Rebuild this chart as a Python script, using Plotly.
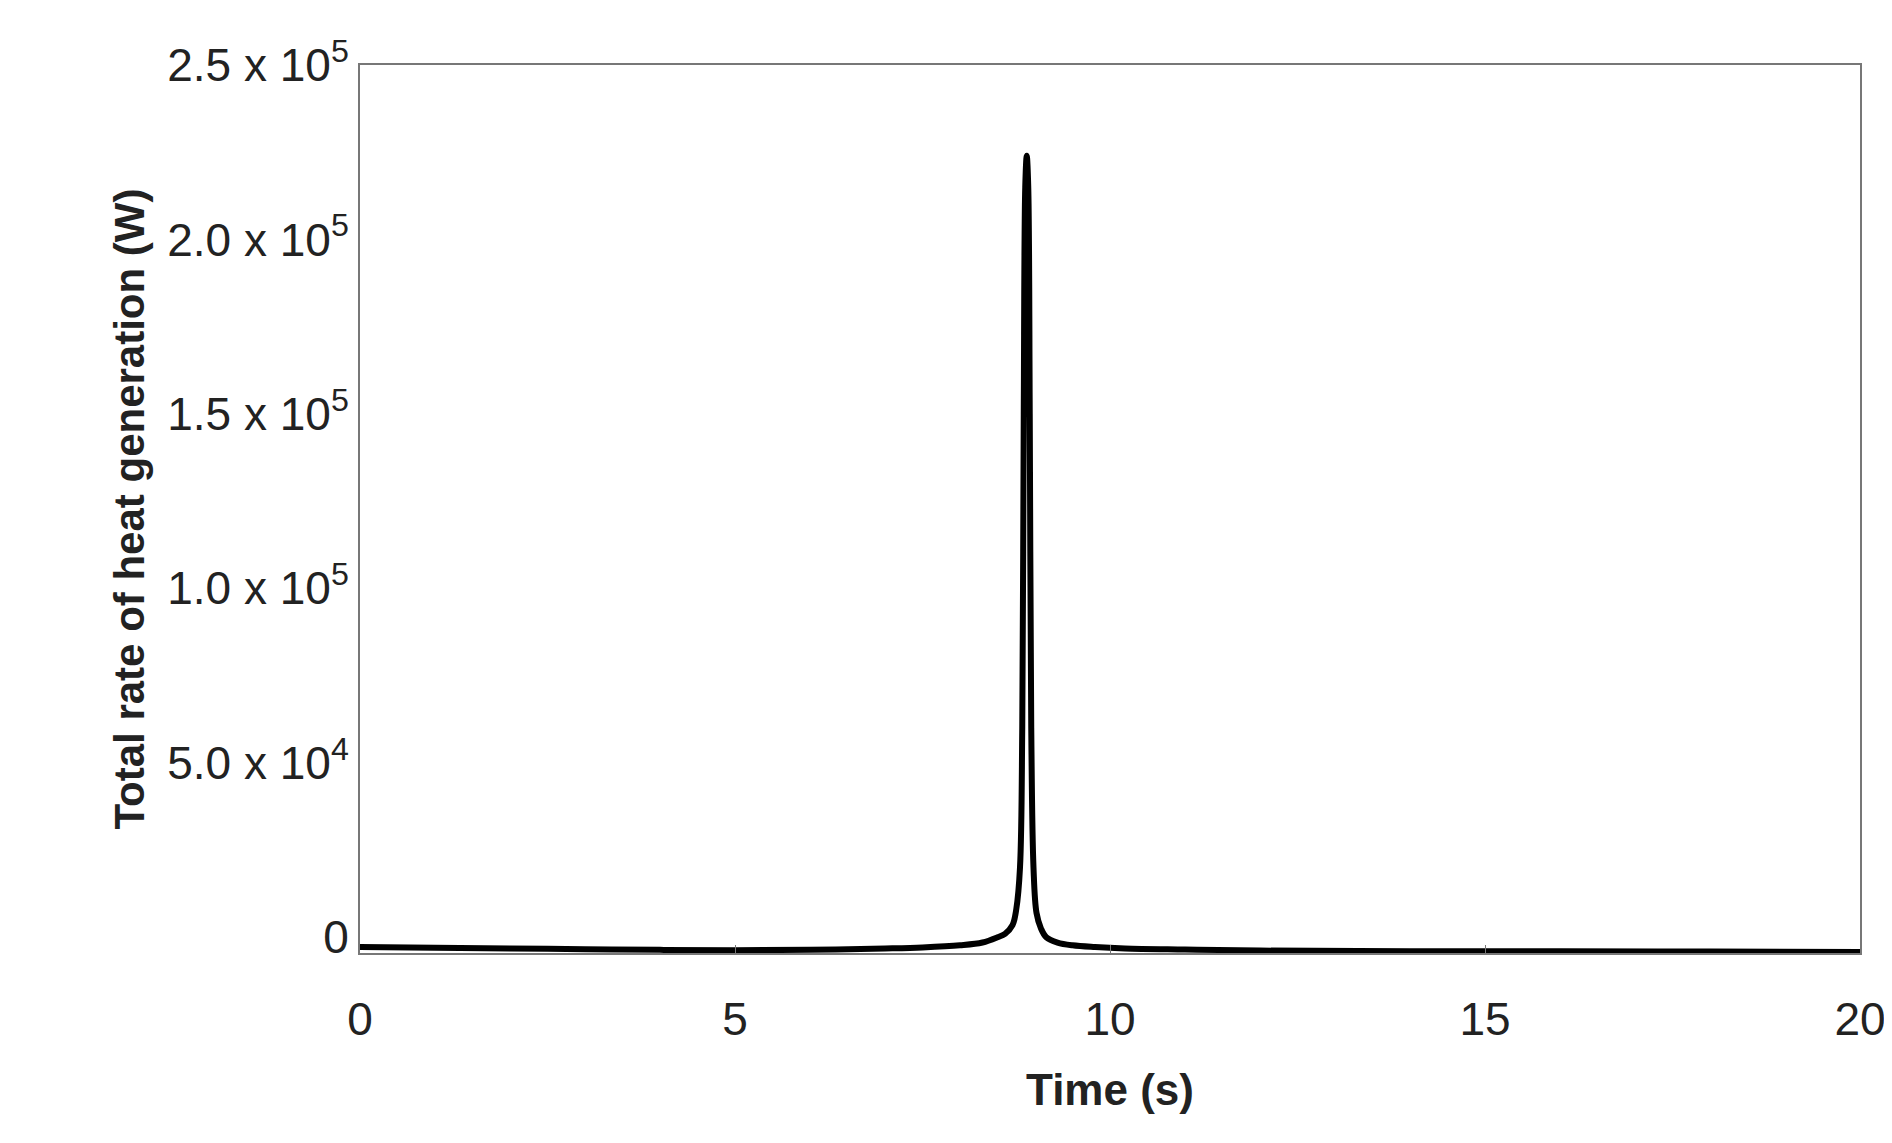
import plotly.graph_objects as go

time_s = [0, 1, 2, 3, 4, 5, 6, 7, 7.5, 8.0, 8.3, 8.5, 8.6, 8.7, 8.75, 8.8, 8.83, 8.85, 8.87, 8.89,
          8.91, 8.93, 8.95, 8.98, 9.02, 9.08, 9.15, 9.3, 9.5, 9.8, 10.2, 11, 12, 14, 16, 18, 20]
heat_w = [-2800, -3000, -3200, -3400, -3600, -3700, -3600, -3200, -2900, -2300, -1500, 0, 1000, 3500,
          8000, 20000, 60000, 150000, 215000, 224000, 215000, 150000, 60000, 20000, 7000, 2500,
          0, -1500, -2300, -2800, -3200, -3500, -3800, -4000, -4000, -4100, -4200]

y_tickvals = [0, 50000, 100000, 150000, 200000, 250000]
y_ticktext = ["0", "5.0 x 10<sup>4</sup>", "1.0 x 10<sup>5</sup>", "1.5 x 10<sup>5</sup>",
              "2.0 x 10<sup>5</sup>", "2.5 x 10<sup>5</sup>"]
x_tickvals = [0, 5, 10, 15, 20]

fig = go.Figure(go.Scatter(x=time_s, y=heat_w, mode="lines", line=dict(color="black", width=6, shape="spline")))

fig.update_layout(
    width=1892, height=1143, showlegend=False,
    plot_bgcolor="white", paper_bgcolor="white",
    margin=dict(l=352, r=40, t=57, b=198),
    font=dict(family="Liberation Sans", size=46, color="#222"),
)
fig.update_xaxes(range=[0, 20], tickvals=x_tickvals, showgrid=False, zeroline=False,
                 showline=True, linecolor="#777", linewidth=2, mirror=True,
                 ticks="inside", ticklen=8, tickcolor="#777", ticklabelstandoff=25,
                 title=dict(text="<b>Time (s)</b>", font=dict(size=44, color="#222"), standoff=30))
fig.update_yaxes(range=[-4500, 250000], tickvals=y_tickvals, ticktext=y_ticktext,
                 showgrid=False, zeroline=False, showline=True, linecolor="#777", linewidth=2, mirror=True,
                 ticks="", title=dict(text="<b>Total rate of heat generation (W)</b>", font=dict(size=42, color="#222"), standoff=10))

fig.write_html("out.html")
